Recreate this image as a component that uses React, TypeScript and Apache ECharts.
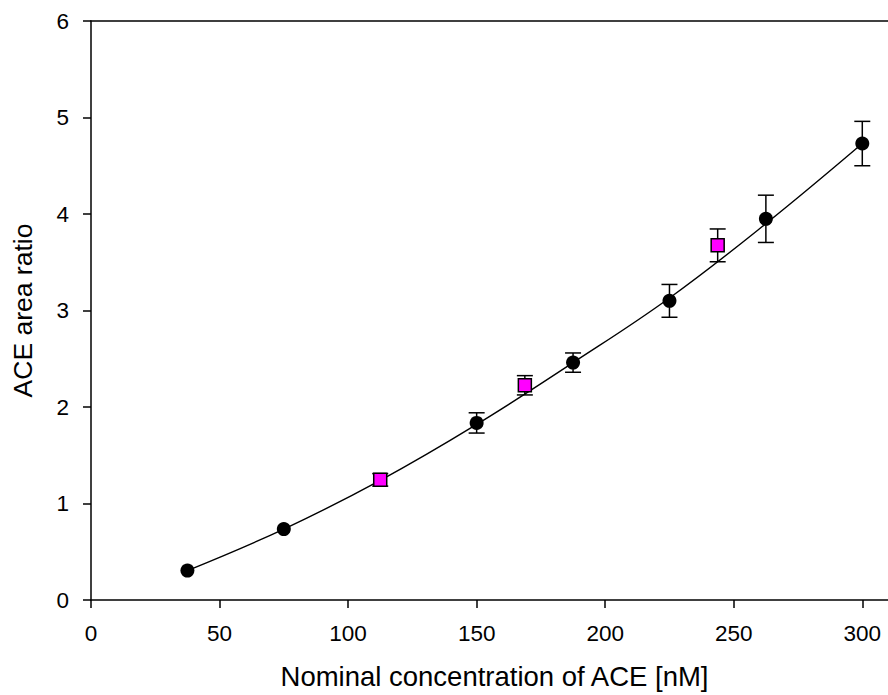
import React, { useEffect, useRef } from "react";
import * as echarts from "echarts";

const circleX = [37.5, 75, 150, 187.5, 225, 262.5, 300];
const circleY = [0.305, 0.735, 1.835, 2.46, 3.1, 3.95, 4.73];
const circleErr = [0, 0, 0.105, 0.1, 0.17, 0.245, 0.23];

const squareX = [112.5, 168.75, 243.75];
const squareY = [1.245, 2.225, 3.675];
const squareErr = [0.065, 0.1, 0.17];

const curveX = [37.5, 75, 112.5, 150, 187.5, 225, 262.5, 300];
const curveY = [0.305, 0.735, 1.24, 1.82, 2.46, 3.13, 3.9, 4.73];

const xTicks = [0, 50, 100, 150, 200, 250, 300];
const yTicks = [0, 1, 2, 3, 4, 5, 6];

const FONT = "'Liberation Sans', Arial, sans-serif";

export default function App() {
  const ref = useRef<HTMLDivElement>(null);
  useEffect(() => {
    if (!ref.current) return;
    const chart = echarts.init(ref.current, null, { renderer: "svg" });
    const errData = [
      ...circleX.map((x, i) => [x, circleY[i], circleErr[i]]),
      ...squareX.map((x, i) => [x, squareY[i], squareErr[i]]),
    ].filter((d) => d[2] > 0);
    const lineStyle = { color: "#000", width: 1.5 };
    chart.setOption({
      animation: false,
      backgroundColor: "#fff",
      grid: { left: 91, right: -2, top: 21, bottom: 95, containLabel: false },
      xAxis: [
        {
          type: "value",
          min: xTicks[0],
          max: 310,
          interval: 50,
          name: "Nominal concentration of ACE [nM]",
          nameLocation: "middle",
          nameGap: 62,
          nameTextStyle: { fontFamily: FONT, fontSize: 27.5, color: "#000", padding: [0, 0, 0, 10] },
          axisLine: { show: true, onZero: false, lineStyle },
          axisTick: { show: true, inside: false, length: 8, lineStyle },
          axisLabel: {
            show: true,
            margin: 22,
            fontFamily: FONT,
            fontSize: 22.5,
            color: "#000",
            showMaxLabel: false,
          },
          splitLine: { show: false },
        },
        {
          type: "value",
          position: "top",
          min: 0,
          max: 310,
          axisLine: { show: true, onZero: false, lineStyle },
          axisTick: { show: false },
          axisLabel: { show: false },
          splitLine: { show: false },
        },
      ],
      yAxis: {
        type: "value",
        min: yTicks[0],
        max: yTicks[yTicks.length - 1],
        interval: 1,
        name: "ACE area ratio",
        nameLocation: "middle",
        nameGap: 55,
        nameTextStyle: { fontFamily: FONT, fontSize: 26.5, color: "#000" },
        axisLine: { show: true, onZero: false, lineStyle },
        axisTick: { show: true, inside: false, length: 8, lineStyle },
        axisLabel: { margin: 22, fontFamily: FONT, fontSize: 22.5, color: "#000" },
        splitLine: { show: false },
      },
      series: [
        {
          type: "line",
          data: curveX.map((x, i) => [x, curveY[i]]),
          smooth: 0.4,
          symbol: "none",
          lineStyle: { color: "#000", width: 1.4 },
          z: 1,
        },
        {
          type: "custom",
          data: errData,
          encode: { x: 0, y: 1 },
          z: 2,
          renderItem: (params: any, api: any) => {
            const x = api.value(0);
            const y = api.value(1);
            const e = api.value(2);
            const top = api.coord([x, y + e]);
            const bot = api.coord([x, y - e]);
            const hw = 8;
            const st = { stroke: "#000", lineWidth: 1.5 };
            return {
              type: "group",
              children: [
                { type: "line", shape: { x1: top[0], y1: top[1], x2: bot[0], y2: bot[1] }, style: st },
                { type: "line", shape: { x1: top[0] - hw, y1: top[1], x2: top[0] + hw, y2: top[1] }, style: st },
                { type: "line", shape: { x1: bot[0] - hw, y1: bot[1], x2: bot[0] + hw, y2: bot[1] }, style: st },
              ],
            };
          },
        },
        {
          type: "scatter",
          data: circleX.map((x, i) => [x, circleY[i]]),
          symbol: "circle",
          symbolSize: 14,
          itemStyle: { color: "#000", opacity: 1 },
          z: 3,
        },
        {
          type: "scatter",
          data: squareX.map((x, i) => [x, squareY[i]]),
          symbol: "rect",
          symbolSize: 13,
          itemStyle: { color: "#ff00ff", borderColor: "#000", borderWidth: 1.5, opacity: 1 },
          z: 3,
        },
      ],
    });
    return () => chart.dispose();
  }, []);
  return (
    <div
      ref={ref}
      style={{ position: "fixed", left: 0, top: 0, width: 888, height: 695, background: "#fff" }}
    />
  );
}
